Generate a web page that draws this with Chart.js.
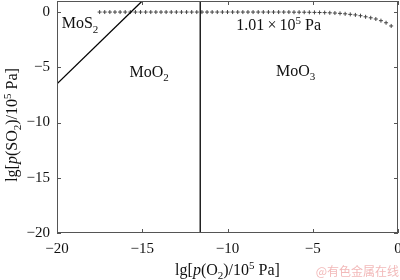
<!DOCTYPE html>
<html>
<head>
<meta charset="utf-8">
<script src="https://cdn.jsdelivr.net/npm/chart.js@4"></script>
<style>
  body { margin: 0; background: #fff; }
  #wrap { width: 400px; height: 280px; }
</style>
</head>
<body>
<div id="wrap"><canvas id="chart" width="400" height="280"></canvas></div>
<script>
// data
const xTicks = [-20, -15, -10, -5, 0];
const yTicks = [-20, -15, -10, -5, 0];

// MoS2 / MoO2 boundary
const boundaryS2X = [-20, -15];
const boundaryS2Y = [-6.5, 1];
// MoO2 / MoO3 boundary
const boundaryO2X = [-11.6, -11.6];
const boundaryO2Y = [-20, 1];

// total pressure line (plus markers)
const pressureX = [-17.5, -17.2, -16.9, -16.6, -16.3, -16.0, -15.7, -15.4, -15.1, -14.8,
  -14.5, -14.2, -13.9, -13.6, -13.3, -13.0, -12.7, -12.4, -12.1, -11.8,
  -11.5, -11.2, -10.9, -10.6, -10.3, -10.0, -9.7, -9.4, -9.1, -8.8,
  -8.5, -8.2, -7.9, -7.6, -7.3, -7.0, -6.7, -6.4, -6.1, -5.8,
  -5.5, -5.2, -4.9, -4.6, -4.3, -4.0, -3.7, -3.4, -3.1, -2.8,
  -2.5, -2.2, -1.9, -1.6, -1.3, -1.0, -0.7, -0.4];
const pressureY = [0, 0, 0, 0, 0, 0, 0, 0, 0, 0,
  0, 0, 0, 0, 0, 0, 0, 0, 0, 0,
  0, 0, 0, 0, 0, 0, 0, 0, 0, 0,
  0, 0, 0, 0, 0, 0, 0, 0, -0.01, -0.01,
  -0.015, -0.02, -0.03, -0.04, -0.05, -0.07, -0.09, -0.12, -0.16, -0.21,
  -0.26, -0.33, -0.43, -0.52, -0.63, -0.78, -0.97, -1.26];

// region labels: [segments, x, y]
const regionLabels = [
  [[['MoS'], ['2', 'sub']], -18.65, -1.0],
  [[['MoO'], ['2', 'sub']], -14.6, -5.4],
  [[['MoO'], ['3', 'sub']], -6.0, -5.3],
  [[['1.01\u2009\u00d7\u200910'], ['5', 'sup'], [' Pa']], -7.0, -1.2]
];
const xTitle = [['lg['], ['p', 'it'], ['(O'], ['2', 'sub'], [')/10'], ['5', 'sup'], [' Pa]']];
const yTitle = [['lg['], ['p', 'it'], ['(SO'], ['2', 'sub'], [')/10'], ['5', 'sup'], [' Pa]']];

const serif = '"Liberation Serif", "DejaVu Serif", serif';

function toPoints(xs, ys) {
  return xs.map((x, i) => ({ x: x, y: ys[i] }));
}

function segFont(kind, size) {
  let s = (kind === 'sub' || kind === 'sup') ? Math.round(size * 0.68) : size;
  return (kind === 'it' ? 'italic ' : '') + s + 'px ' + serif;
}

// draw text made of plain / italic / sub / sup pieces, centred on x
function drawRich(ctx, segs, x, y, size) {
  let total = 0;
  segs.forEach(s => { ctx.font = segFont(s[1], size); total += ctx.measureText(s[0]).width; });
  let cx = x - total / 2;
  ctx.textAlign = 'left';
  ctx.textBaseline = 'alphabetic';
  segs.forEach(s => {
    ctx.font = segFont(s[1], size);
    let dy = s[1] === 'sub' ? size * 0.28 : (s[1] === 'sup' ? -size * 0.38 : 0);
    ctx.fillText(s[0], cx, y + dy);
    cx += ctx.measureText(s[0]).width;
  });
}

const decorPlugin = {
  id: 'decor',
  afterDraw(chart) {
    const ctx = chart.ctx;
    const a = chart.chartArea;
    const xs = chart.scales.x, ys = chart.scales.y;
    ctx.save();
    // frame
    ctx.strokeStyle = '#555';
    ctx.lineWidth = 1;
    ctx.strokeRect(Math.round(a.left) + 0.5, Math.round(a.top) + 0.5,
      Math.round(a.right - a.left) - 1, Math.round(a.bottom - a.top) - 1);
    // inward ticks
    ctx.beginPath();
    xTicks.forEach(v => {
      const px = Math.round(xs.getPixelForValue(v)) + 0.5;
      ctx.moveTo(px, a.bottom); ctx.lineTo(px, a.bottom - 4);
      ctx.moveTo(px, a.top); ctx.lineTo(px, a.top + 4);
    });
    yTicks.forEach(v => {
      const py = Math.round(ys.getPixelForValue(v)) + 0.5;
      ctx.moveTo(a.left, py); ctx.lineTo(a.left + 4, py);
      ctx.moveTo(a.right, py); ctx.lineTo(a.right - 4, py);
    });
    ctx.stroke();
    // region labels
    ctx.fillStyle = '#111';
    regionLabels.forEach(l => {
      drawRich(ctx, l[0], xs.getPixelForValue(l[1]), ys.getPixelForValue(l[2]) + 5, 16);
    });
    // axis titles
    drawRich(ctx, xTitle, (a.left + a.right) / 2, 275, 16);
    ctx.save();
    ctx.translate(17, (a.top + a.bottom) / 2 + 8);
    ctx.rotate(-Math.PI / 2);
    drawRich(ctx, yTitle, 0, 0, 16);
    ctx.restore();
    // watermark
    ctx.fillStyle = '#f2b9b9';
    ctx.font = '12px "Noto Sans CJK SC", sans-serif';
    ctx.textAlign = 'right';
    ctx.textBaseline = 'alphabetic';
    ctx.fillText('@有色金属在线', 399, 276);
    ctx.restore();
  }
};

function fmt(v) {
  return v < 0 ? '\u2212' + Math.abs(v) : String(v);
}

new Chart(document.getElementById('chart'), {
  type: 'scatter',
  data: {
    datasets: [
      {
        data: toPoints(boundaryS2X, boundaryS2Y),
        showLine: true, borderColor: '#000', borderWidth: 1.3, pointRadius: 0
      },
      {
        data: toPoints(boundaryO2X, boundaryO2Y),
        showLine: true, borderColor: '#000', borderWidth: 1.3, pointRadius: 0
      },
      {
        data: toPoints(pressureX, pressureY),
        showLine: false, pointStyle: 'cross', pointRadius: 2,
        borderColor: '#444', backgroundColor: '#444', pointBorderWidth: 1
      }
    ]
  },
  options: {
    responsive: false,
    animation: false,
    layout: { autoPadding: false, padding: { top: 1, right: 2, left: 0, bottom: 0 } },
    plugins: { legend: { display: false }, tooltip: { enabled: false } },
    scales: {
      x: {
        type: 'linear', min: -20, max: 0,
        grid: { display: false, drawTicks: false }, border: { display: false },
        ticks: { stepSize: 5, padding: 7, color: '#111', maxRotation: 0,
          font: { family: serif, size: 15 }, callback: v => fmt(v) },
        afterFit: s => { s.height = 47; s.paddingLeft = 0; s.paddingRight = 0; }
      },
      y: {
        type: 'linear', min: -20, max: 1,
        grid: { display: false, drawTicks: false }, border: { display: false },
        ticks: { stepSize: 5, padding: 7, color: '#111', includeBounds: false,
          font: { family: serif, size: 15 }, callback: v => fmt(v) },
        afterFit: s => { s.width = 57; s.paddingTop = 0; s.paddingBottom = 0; }
      }
    }
  },
  plugins: [decorPlugin]
});
</script>
</body>
</html>
